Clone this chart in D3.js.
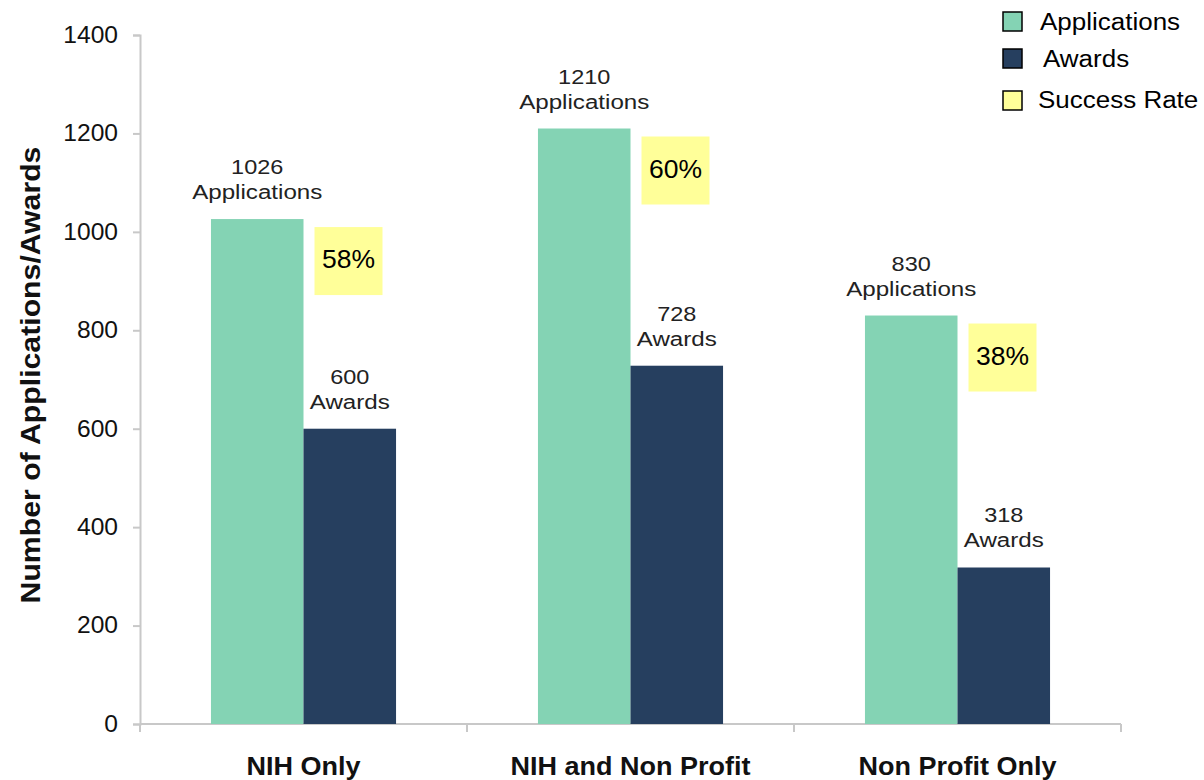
<!DOCTYPE html>
<html><head><meta charset="utf-8">
<script src="https://cdn.jsdelivr.net/npm/d3@7"></script>
<style>body{margin:0;background:#fff}svg{display:block;font-family:"Liberation Sans",Arial,sans-serif}</style>
</head><body><svg id="c" width="1204" height="780"></svg>
<script>
const categories = ["NIH Only", "NIH and Non Profit", "Non Profit Only"];
const applications = [1026, 1210, 830];
const awards = [600, 728, 318];
const successRates = ["58%", "60%", "38%"];
const yTicks = [0, 200, 400, 600, 800, 1000, 1200, 1400];
const seriesNames = ["Applications", "Awards", "Success Rate"];
const colors = {Applications: "#84D3B4", Awards: "#263F5F", "Success Rate": "#FFFF99"};

const svg = d3.select("#c");
const x0 = 140, x1 = 1121, yTop = 35, yBot = 724;
const x = d3.scaleBand().domain(categories).range([x0, x1]).paddingInner(0.434).paddingOuter(0.217);
const xs = d3.scaleBand().domain(["Applications", "Awards"]).range([0, x.bandwidth()]);
const y = d3.scaleLinear().domain([0, 1400]).range([yBot, yTop]);

// stretched text helper (reference text is horizontally widened)
function stext(parent, px, py, str, size, sx, opts = {}) {
  const g = parent.append("g").attr("transform", `translate(${px},${py})${opts.rotate ? " rotate(" + opts.rotate + ")" : ""} scale(${sx},1)`);
  return g.append("text").attr("x", 0).attr("y", 0).attr("font-size", size)
    .attr("text-anchor", opts.anchor || "middle").attr("font-weight", opts.bold ? "bold" : "normal")
    .attr("fill", opts.fill || "#111").text(str);
}

// y axis
const ya = svg.append("g").attr("transform", `translate(${x0},0)`)
  .call(d3.axisLeft(y).tickValues(yTicks).tickFormat(d3.format("d")).tickSize(7).tickPadding(15));
ya.select(".domain").attr("stroke", "#c8c8c8").attr("stroke-width", 2);
ya.selectAll(".tick line").attr("stroke", "#c8c8c8").attr("stroke-width", 2);
ya.selectAll(".tick text").attr("font-size", 23).attr("fill", "#111")
  .attr("font-family", "Liberation Sans, Arial, sans-serif")
  .attr("x", -22 / 1.07).attr("transform", "scale(1.07,1)");

// x axis
const xa = svg.append("g").attr("transform", `translate(0,${yBot})`);
xa.append("line").attr("x1", x0).attr("x2", x1).attr("stroke", "#c8c8c8").attr("stroke-width", 2);
const bounds = [x0].concat(categories.map(c => x(c) - x.step()*x.paddingInner()/2 + x.step()));
bounds.forEach(b => xa.append("line").attr("x1", b).attr("x2", b).attr("y1", 0).attr("y2", 8).attr("stroke", "#c8c8c8").attr("stroke-width", 2));
categories.forEach(c => stext(xa, x(c) + x.bandwidth()/2, 51, c, 25, 1.08, {bold: true}));

// y title
stext(svg, 40, 375, "Number of Applications/Awards", 27, 1.12, {bold: true, rotate: -90});

// bars
const g = svg.append("g");
categories.forEach((c, i) => {
  const vals = [["Applications", applications[i]], ["Awards", awards[i]]];
  vals.forEach(([k, v]) => {
    const bx = x(c) + xs(k);
    g.append("rect").attr("x", bx).attr("y", y(v)).attr("width", xs.bandwidth()).attr("height", y(0) - y(v))
      .attr("fill", colors[k]);
    const cx = bx + xs.bandwidth()/2;
    stext(g, cx, y(v) - 45, String(v), 21, 1.12, {fill: "#222"});
    stext(g, cx, y(v) - 20, k, 21, 1.15, {fill: "#222"});
  });
  // success rate box
  const bx = x(c) + xs("Awards") + 11, by = y(applications[i]) + 8;
  g.append("rect").attr("x", bx).attr("y", by).attr("width", 68).attr("height", 68).attr("fill", colors["Success Rate"]);
  stext(g, bx + 34, by + 41, successRates[i], 25, 1.06, {fill: "#000"});
});

// legend
const lg = svg.append("g");
const ly = [12, 49, 91];
const lx = [1040, 1043, 1038];
const lb = [30, 67, 108];
seriesNames.forEach((n, i) => {
  lg.append("rect").attr("x", 1003).attr("y", ly[i]).attr("width", 19).attr("height", 19)
    .attr("fill", colors[n]).attr("stroke", "#000").attr("stroke-width", 1.5);
  stext(lg, lx[i], lb[i], n, 23, 1.13, {anchor: "start", fill: "#000"});
});
</script></body></html>
